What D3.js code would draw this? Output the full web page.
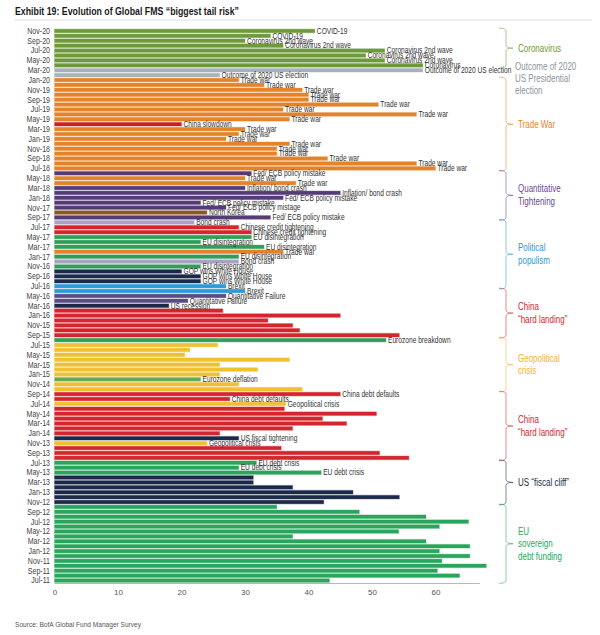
<!DOCTYPE html>
<html><head><meta charset="utf-8">
<script src="https://cdn.jsdelivr.net/npm/d3@7"></script>
<style>
body{margin:0;background:#fff;}
svg text{font-family:"Liberation Sans",Arial,sans-serif;}
</style></head>
<body><svg id="c" width="600" height="635"></svg>
<script>
const months = ["Nov-20","Oct-20","Sep-20","Aug-20","Jul-20","Jun-20","May-20","Apr-20","Mar-20","Feb-20","Jan-20",
"Dec-19","Nov-19","Oct-19","Sep-19","Aug-19","Jul-19","Jun-19","May-19","Apr-19","Mar-19","Feb-19","Jan-19",
"Dec-18","Nov-18","Oct-18","Sep-18","Aug-18","Jul-18","Jun-18","May-18","Apr-18","Mar-18","Feb-18","Jan-18",
"Dec-17","Nov-17","Oct-17","Sep-17","Aug-17","Jul-17","Jun-17","May-17","Apr-17","Mar-17","Feb-17","Jan-17",
"Dec-16","Nov-16","Oct-16","Sep-16","Aug-16","Jul-16","Jun-16","May-16","Apr-16","Mar-16","Feb-16","Jan-16",
"Dec-15","Nov-15","Oct-15","Sep-15","Aug-15","Jul-15","Jun-15","May-15","Apr-15","Mar-15","Feb-15","Jan-15",
"Dec-14","Nov-14","Oct-14","Sep-14","Aug-14","Jul-14","Jun-14","May-14","Apr-14","Mar-14","Feb-14","Jan-14",
"Dec-13","Nov-13","Oct-13","Sep-13","Aug-13","Jul-13","Jun-13","May-13","Apr-13","Mar-13","Feb-13","Jan-13",
"Dec-12","Nov-12","Oct-12","Sep-12","Aug-12","Jul-12","Jun-12","May-12","Apr-12","Mar-12","Feb-12","Jan-12",
"Dec-11","Nov-11","Oct-11","Sep-11","Aug-11","Jul-11"];

const values = [41,34,30,36,52,49,52,58,58,26,29,
33,39,40,40,51,36,57,37,20,30,29,27,
37,35,35,43,57,60,31,30,38,30,45,36,
23,27,24,34,22,29,31,31,23,33,36,29,
29,23,20,23,23,27,30,27,21,18,26.5,45,
33.6,37.5,38.6,54.3,52.2,25.7,21.3,20.5,37,26,32,26,
23,29,39,45,27.6,36.4,36.2,50.7,42.2,46,37.5,26,
29,24,35.7,51.2,55.8,31.8,29,42,31.3,31.3,37.5,47,
54.3,42.4,35,48,58.5,65.2,60.6,54.2,37.5,58.5,65.4,60.6,
65.4,61,68,60.3,63.8,43.3];

const riskKeys = ["covid","covid","covid","covid","covid","covid","covid","covid","election","election","trade",
"trade","trade","trade","trade","trade","trade","trade","trade","chinaslow","trade","trade","trade",
"trade","trade","trade","trade","trade","trade","qt","trade","trade","qt","qt","qt",
"qt","qt","nk","qt","bond","chinacredit","chinacredit","eu","eu","eu","trade","eu",
"bond","eu","gop","gop","gop","brexit","brexit","qf","qf","usrec","china","china",
"china","china","china","china","ezbreak","geo","geo","geo","geo","geo","geo","geo",
"ezdefl","geo","geo","china","china","geo","china","china","china","china","china","china",
"fiscal","geo","china","china","china","eudebt","eudebt","eudebt","fiscal","fiscal","fiscal","fiscal",
"fiscal","fiscal","eudebt","eudebt","eudebt","eudebt","eudebt","eudebt","eudebt","eudebt","eudebt","eudebt",
"eudebt","eudebt","eudebt","eudebt","eudebt","eudebt"];

const riskLabels = ["COVID-19","COVID-19","Coronavirus 2nd wave","Coronavirus 2nd wave","Coronavirus 2nd wave","Coronavirus 2nd wave","Coronavirus 2nd wave","Coronavirus","Outcome of 2020 US election","Outcome of 2020 US election","Trade war",
"Trade war","Trade war","Trade war","Trade war","Trade war","Trade war","Trade war","Trade war","China slowdown","Trade war","Trade war","Trade war",
"Trade war","Trade war","Trade war","Trade war","Trade war","Trade war","Fed/ ECB policy mistake","Trade war","Trade war","Inflation/ bond crash","Inflation/ bond crash","Fed/ ECB policy mistake",
"Fed/ ECB policy mistake","Fed/ ECB policy mistage","North Korea","Fed/ ECB policy mistake","Bond crash","Chinese credit tightening","Chinese credit tightening","EU disintegration","EU disintegration","EU disintegration","Trade war","EU disintegration",
"Bond crash","EU disintegration","GOP wins White House","GOP wins White House","GOP wins White House","Brexit","Brexit","Quantitative Failure","Quantitative Failure","US recession","","",
"","","","","Eurozone breakdown","","","","","","","",
"Eurozone deflation","","","China debt defaults","China debt defaults","Geopolitical crisis","","","","","","",
"US fiscal tightening","Geopolitical crisis","","","","EU debt crisis","EU debt crisis","EU debt crisis","","","","",
"","","","","","","","","","","","",
"","","","","",""];

const xTicks = [0,10,20,30,40,50,60];

const colors = {covid:"#6e9a3c",election:"#a9b2b8",trade:"#e4832a",chinaslow:"#c8202a",qt:"#553b78",nk:"#8b5a22",
bond:"#aaa3c6",chinacredit:"#d4262e",eu:"#2f9e5b",gop:"#1b2a4a",brexit:"#2b9ad6",qf:"#5a4b84",usrec:"#1b2a4a",
china:"#d4262e",ezbreak:"#2f9e5b",geo:"#f0c030",ezdefl:"#62a95a",fiscal:"#1b2a4a",eudebt:"#2aa65c"};

const groupNames = [["Coronavirus"],["Trade War"],["Quantitative","Tightening"],["Political","populism"],["China","\u201Chard landing\u201D"],["Geopolitical","crisis"],["China","\u201Chard landing\u201D"],["US \u201Cfiscal cliff\u201D"],["EU","sovereign","debt funding"]];
const groupStart = [0,10,29,39,53,63,74,88,97];
const groupEnd   = [7,28,38,52,62,73,87,96,112];
const groupColors = ["#6e9a3c","#e4832a","#6a4a90","#2b9ad6","#d4262e","#f0b42a","#d4262e","#1b2a4a","#2aa65c"];
const electionNote = ["Outcome of 2020","US Presidential","election"];

const SX = 0.8; // horizontal condensation to mimic a narrow typeface
const svg = d3.select("#c");
const x = d3.scaleLinear().domain([0,70]).range([54.5,499]);
const y = d3.scaleBand().domain(months).range([28.5,583]).paddingInner(0.26).paddingOuter(0.13);
const cy = m => y(m) + y.bandwidth()/2;

// title
svg.append("text").attr("x",15).attr("y",15).attr("font-size",11.5).attr("font-weight","bold").attr("fill","#1a1a1a")
  .attr("textLength",224).attr("lengthAdjust","spacingAndGlyphs")
  .text("Exhibit 19: Evolution of Global FMS \u201Cbiggest tail risk\u201D");
svg.append("line").attr("x1",14).attr("x2",592).attr("y1",20).attr("y2",20).attr("stroke","#dadada").attr("stroke-width",0.8);

const data = months.map((m,i)=>({m, v:values[i], k:riskKeys[i], l:riskLabels[i], i}));

// bars
svg.append("g").selectAll("rect").data(data).join("rect")
  .attr("x",x(0)).attr("y",d=>y(d.m)).attr("width",d=>x(d.v)-x(0)).attr("height",y.bandwidth())
  .attr("fill",d=>colors[d.k]).attr("stroke",d=>colors[d.k]).attr("stroke-opacity",0.3).attr("stroke-width",1.2);

// bar labels
svg.append("g").selectAll("text").data(data.filter(d=>d.l)).join("text")
  .attr("transform",d=>`translate(${x(d.v)+2},${cy(d.m)+2.8}) scale(${SX},1)`)
  .attr("font-size",8.3).attr("fill","#333")
  .text(d=>d.l);

// y labels
svg.append("g").selectAll("text").data(data.filter(d=>d.i%2===0)).join("text")
  .attr("transform",d=>`translate(50,${cy(d.m)+2.9}) scale(0.85,1)`)
  .attr("text-anchor","end").attr("font-size",8.3).attr("fill","#444")
  .text(d=>d.m);

// x axis
const ax = svg.append("g").attr("transform","translate(0,583)")
  .call(d3.axisBottom(x).tickValues(xTicks).tickSize(0).tickPadding(6));
ax.select(".domain").remove();
ax.selectAll("text").attr("font-size",8).attr("fill","#555")
  .style("font-family",'"Liberation Sans",Arial,sans-serif');
svg.append("line").attr("x1",x(0)).attr("x2",x(67)).attr("y1",583.5).attr("y2",583.5).attr("stroke","#b8b8b8").attr("stroke-width",1);

// braces & group labels
const bx0=499, bx1=506, bx2=513, r=3;
groupNames.forEach((lines,gi)=>{
  const top = y(months[groupStart[gi]]) - 1;
  const bot = y(months[groupEnd[gi]]) + y.bandwidth() + 1;
  const mid = (top+bot)/2;
  const p = `M${bx0},${top} Q${bx1},${top} ${bx1},${top+r} L${bx1},${mid-r} Q${bx1},${mid} ${bx2},${mid} Q${bx1},${mid} ${bx1},${mid+r} L${bx1},${bot-r} Q${bx1},${bot} ${bx0},${bot}`;
  svg.append("path").attr("d",p).attr("fill","none").attr("stroke",groupColors[gi]).attr("stroke-opacity",0.55).attr("stroke-width",1);
  const lh = 12.5;
  const t = svg.append("text").attr("transform",`translate(518,0) scale(${SX},1)`)
    .attr("font-size",10).attr("fill",groupColors[gi]);
  lines.forEach((s,j)=>{
    t.append("tspan").attr("x",0).attr("y",mid + 3.4 + (j-(lines.length-1)/2)*lh).text(s);
  });
});
// election note
const et = svg.append("text").attr("transform",`translate(515,0) scale(${SX},1)`).attr("font-size",10).attr("fill","#8c959b");
electionNote.forEach((s,j)=>et.append("tspan").attr("x",0).attr("y",70+j*12.2).text(s));

// source
svg.append("text").attr("x",15).attr("y",627).attr("font-size",7.8).attr("fill","#555")
  .attr("textLength",126).attr("lengthAdjust","spacingAndGlyphs")
  .text("Source: BofA Global Fund Manager Survey");
</script></body></html>
